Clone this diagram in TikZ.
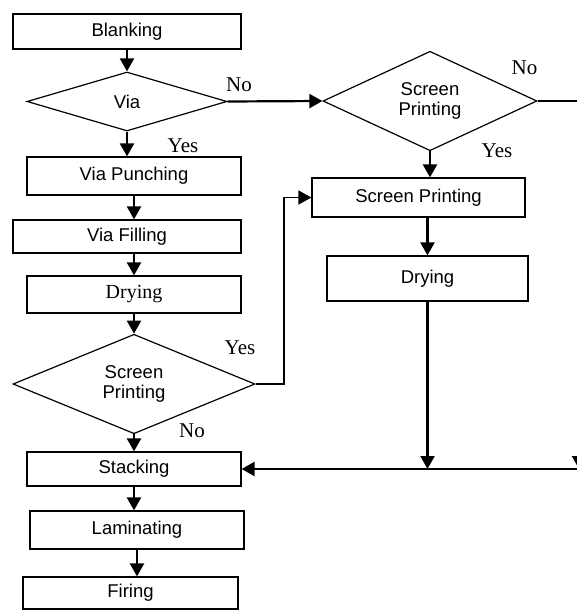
\documentclass[tikz,border=0pt]{standalone}
\usepackage{fontspec}
\setmainfont{Liberation Serif}
\setsansfont{Liberation Sans}
\usetikzlibrary{shapes.geometric,arrows.meta}
\tikzset{
   stage box/.style={rectangle,draw,line width=1.2pt,inner sep=0pt,font=\sffamily\fontsize{18.5}{21}\selectfont},
   test node/.style={diamond,draw,line width=1.2pt,inner sep=0pt,align=center,font=\sffamily\fontsize{18.5}{20}\selectfont},
   answer/.style={inner sep=0pt,font=\rmfamily\fontsize{21}{23}\selectfont},
   flow/.style={-{Triangle[width=14pt,length=13pt]},line width=2.2pt}
}

\begin{document}
\begin{tikzpicture}[x=1pt,y=-1pt]
\clip (0,0) rectangle (577,611);

% left column
\node[stage box, minimum width=228pt, minimum height=35pt] (blank) at (127,31.5) {Blanking};
\node[test node, minimum width=200pt, minimum height=59pt] (via) at (127,101.5) {Via};
\node[stage box, minimum width=214pt, minimum height=38pt] (punch) at (134,176) {Via Punching};
\node[stage box, minimum width=228pt, minimum height=33pt] (fill) at (127,236.5) {Via Filling};
\node[stage box, minimum width=214pt, minimum height=37pt, font=\rmfamily\fontsize{20}{22}\selectfont] (dryL) at (134,294.5) {Drying};
\node[test node, minimum width=242pt, minimum height=92pt] (spL) at (134,384) {Screen\\Printing};
\node[stage box, minimum width=214pt, minimum height=34pt] (stack) at (134,469) {Stacking};
\node[stage box, minimum width=214pt, minimum height=38pt] (lam) at (137,530) {Laminating};
\node[stage box, minimum width=215pt, minimum height=32pt] (fire) at (130.5,593) {Firing};

% right column
\node[test node, minimum width=214pt, minimum height=88pt] (spR) at (430,101) {Screen\\Printing};
\node[stage box, minimum width=213pt, minimum height=39pt] (spbox) at (418.5,197.5) {Screen Printing};
\node[stage box, minimum width=201pt, minimum height=45pt] (dryR) at (427.5,278.5) {Drying};

% answers
\node[answer] (noVia) at (239,85) {No};
\node[answer] (yesVia) at (183,146) {Yes};
\node[answer] (noR) at (524.5,68) {No};
\node[answer] (yesR) at (497,151) {Yes};
\node[answer] (yesL) at (240,348) {Yes};
\node[answer] (noL) at (192,431) {No};

\coordinate (kink) at (284,202);
\coordinate (outR) at (590,101);
\coordinate (inR) at (590,469);
\coordinate (topV) at (579,420);

% connectors
\draw[flow] (blank.south) -- (blank.south |- via.north);
\draw[flow] (via.south) -- (via.south |- punch.north);
\draw[flow] (punch.south) -- (punch.south |- fill.north);
\draw[flow] (dryL.north |- fill.south) -- (dryL.north);
\draw[flow] (dryL.south) -- (dryL.south |- spL.north);
\draw[flow] (spL.south) -- (spL.south |- stack.north);
\draw[flow] (stack.south) -- (stack.south |- lam.north);
\draw[flow] (lam.south) -- (lam.south |- fire.north);
\draw[flow] (via.east) -- (spR.west);
\draw[line width=1.2pt] (spR.east) -- (outR);
\draw[flow] (spR.south) -- (spR.south |- spbox.north);
\draw[flow] (dryR.north |- spbox.south) -- (dryR.north);
\draw[flow, line width=1.4pt] (spL.east) -| (kink) |- (spbox.west);
\draw[flow] (dryR.south) -- (dryR.south |- stack.east);
\draw[flow] (inR) -- (stack.east);
\draw[flow] (topV) -- (topV |- stack.east);
\end{tikzpicture}
\end{document}
